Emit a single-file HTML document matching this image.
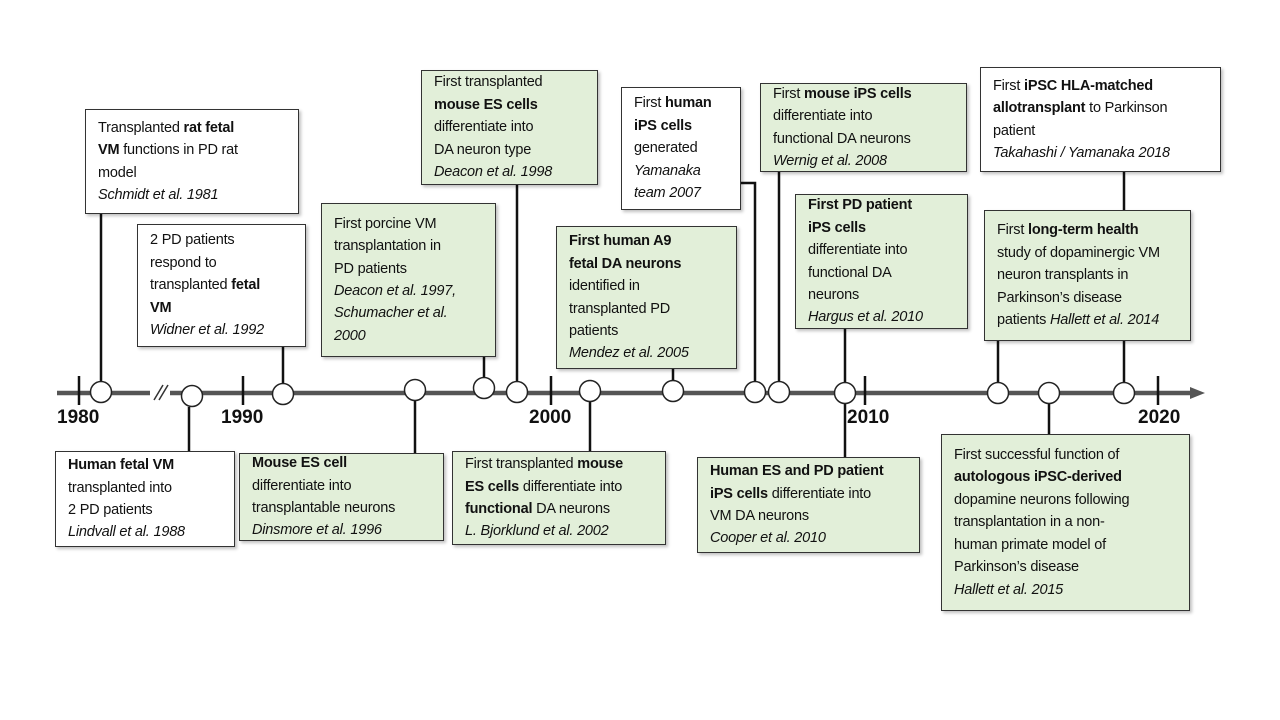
<!DOCTYPE html>
<html><head><meta charset="utf-8"><style>
body{margin:0;width:1280px;height:720px;background:#fff;position:relative;overflow:hidden;font-family:"Liberation Sans",Arial,sans-serif;}
.b{position:absolute;box-sizing:border-box;border:1.5px solid #333;background:#fff;padding:0 6px 0 12px;font-size:14.5px;line-height:22.4px;color:#111;box-shadow:2px 2px 3px rgba(0,0,0,0.25);letter-spacing:-0.2px;white-space:nowrap;display:flex;flex-direction:column;justify-content:center}
.g{background:#e2efd9}
.y{position:absolute;font-weight:bold;font-size:19px;color:#111}
svg{position:absolute;left:0;top:0}
</style></head><body>
<svg width="1280" height="720">
<g stroke="#111" stroke-width="2.5" fill="none">
<line x1="101" y1="214" x2="101" y2="381"/>
<line x1="283" y1="347" x2="283" y2="383"/>
<line x1="484" y1="357" x2="484" y2="378"/>
<line x1="517" y1="185" x2="517" y2="381"/>
<line x1="673" y1="369" x2="673" y2="380"/>
<polyline points="741,183 755,183 755,381"/>
<line x1="779" y1="172" x2="779" y2="381"/>
<line x1="845" y1="329" x2="845" y2="382"/>
<line x1="1124" y1="172" x2="1124" y2="382"/>
<line x1="998" y1="341" x2="998" y2="382"/>
<line x1="189" y1="407" x2="189" y2="451"/>
<line x1="415" y1="401" x2="415" y2="453"/>
<line x1="590" y1="402" x2="590" y2="451"/>
<line x1="845" y1="404" x2="845" y2="457"/>
<line x1="1049" y1="404" x2="1049" y2="434"/>
</g>
<g stroke="#555" stroke-width="4.5">
<line x1="57" y1="393" x2="150" y2="393"/>
<line x1="170" y1="393" x2="1192" y2="393"/>
</g>
<polygon points="1190,387 1205,393 1190,399" fill="#555"/>
<g stroke="#333" stroke-width="1.5"><line x1="154" y1="400" x2="163" y2="385"/><line x1="159" y1="400" x2="168" y2="385"/></g>
<g stroke="#111" stroke-width="2.5">
<line x1="79" y1="376" x2="79" y2="405"/><line x1="243" y1="376" x2="243" y2="405"/><line x1="551" y1="376" x2="551" y2="405"/><line x1="865" y1="376" x2="865" y2="405"/><line x1="1158" y1="376" x2="1158" y2="405"/>
</g>
<g fill="#fff" stroke="#222" stroke-width="1.5">
<circle cx="101" cy="392" r="10.5"/><circle cx="192" cy="396" r="10.5"/><circle cx="283" cy="394" r="10.5"/><circle cx="415" cy="390" r="10.5"/><circle cx="484" cy="388" r="10.5"/><circle cx="517" cy="392" r="10.5"/><circle cx="590" cy="391" r="10.5"/><circle cx="673" cy="391" r="10.5"/><circle cx="755" cy="392" r="10.5"/><circle cx="779" cy="392" r="10.5"/><circle cx="845" cy="393" r="10.5"/><circle cx="998" cy="393" r="10.5"/><circle cx="1049" cy="393" r="10.5"/><circle cx="1124" cy="393" r="10.5"/>
</g>
</svg>
<div class="y" style="left:57px;top:407px">1980</div>
<div class="y" style="left:221px;top:407px">1990</div>
<div class="y" style="left:529px;top:407px">2000</div>
<div class="y" style="left:847px;top:407px">2010</div>
<div class="y" style="left:1138px;top:407px">2020</div>

<div class="b" style="left:85px;top:109px;width:214px;height:105px"><div>Transplanted <b>rat fetal</b><br><b>VM</b> functions in PD rat<br>model<br><i>Schmidt et al. 1981</i></div></div>
<div class="b" style="left:137px;top:224px;width:169px;height:123px"><div>2 PD patients<br>respond to<br>transplanted <b>fetal</b><br><b>VM</b><br><i>Widner et al. 1992</i></div></div>
<div class="b g" style="left:321px;top:203px;width:175px;height:154px"><div>First porcine VM<br>transplantation in<br>PD patients<br><i>Deacon et al. 1997,</i><br><i>Schumacher et al.</i><br><i>2000</i></div></div>
<div class="b g" style="left:421px;top:70px;width:177px;height:115px"><div>First transplanted<br><b>mouse ES cells</b><br>differentiate into<br>DA neuron type<br><i>Deacon et al. 1998</i></div></div>
<div class="b g" style="left:556px;top:226px;width:181px;height:143px"><div><b>First human A9</b><br><b>fetal DA neurons</b><br>identified in<br>transplanted PD<br>patients<br><i>Mendez et al. 2005</i></div></div>
<div class="b" style="left:621px;top:87px;width:120px;height:123px"><div>First <b>human</b><br><b>iPS cells</b><br>generated<br><i>Yamanaka</i><br><i>team 2007</i></div></div>
<div class="b g" style="left:760px;top:83px;width:207px;height:89px"><div>First <b>mouse iPS cells</b><br>differentiate into<br>functional DA neurons<br><i>Wernig et al. 2008</i></div></div>
<div class="b g" style="left:795px;top:194px;width:173px;height:135px"><div><b>First PD patient</b><br><b>iPS cells</b><br>differentiate into<br>functional DA<br>neurons<br><i>Hargus et al. 2010</i></div></div>
<div class="b" style="left:980px;top:67px;width:241px;height:105px"><div>First <b>iPSC HLA-matched</b><br><b>allotransplant</b> to Parkinson<br>patient<br><i>Takahashi / Yamanaka 2018</i></div></div>
<div class="b g" style="left:984px;top:210px;width:207px;height:131px"><div>First <b>long-term health</b><br>study of dopaminergic VM<br>neuron transplants in<br>Parkinson’s disease<br>patients <i>Hallett et al. 2014</i></div></div>

<div class="b" style="left:55px;top:451px;width:180px;height:96px"><div><b>Human fetal VM</b><br>transplanted into<br>2 PD patients<br><i>Lindvall et al. 1988</i></div></div>
<div class="b g" style="left:239px;top:453px;width:205px;height:88px"><div><b>Mouse ES cell</b><br>differentiate into<br>transplantable neurons<br><i>Dinsmore et al. 1996</i></div></div>
<div class="b g" style="left:452px;top:451px;width:214px;height:94px"><div>First transplanted <b>mouse</b><br><b>ES cells</b> differentiate into<br><b>functional</b> DA neurons<br><i>L. Bjorklund et al. 2002</i></div></div>
<div class="b g" style="left:697px;top:457px;width:223px;height:96px"><div><b>Human ES and PD patient</b><br><b>iPS cells</b> differentiate into<br>VM DA neurons<br><i>Cooper et al. 2010</i></div></div>
<div class="b g" style="left:941px;top:434px;width:249px;height:177px"><div>First successful function of<br><b>autologous iPSC-derived</b><br>dopamine neurons following<br>transplantation in a non-<br>human primate model of<br>Parkinson’s disease<br><i>Hallett et al. 2015</i></div></div>
</body></html>
